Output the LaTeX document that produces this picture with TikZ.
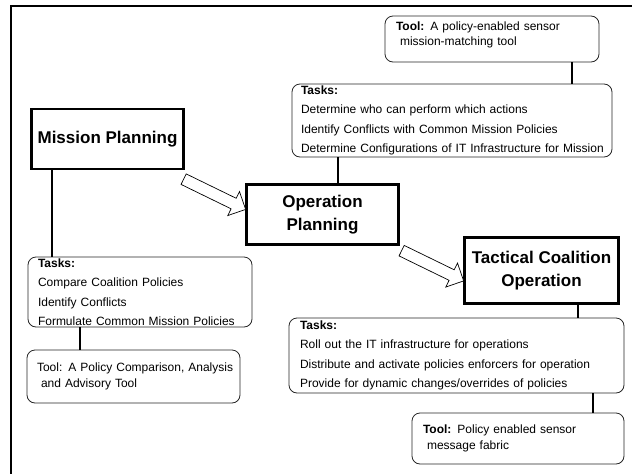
\documentclass[tikz,border=0pt]{standalone}
\usepackage{fontspec}
\setmainfont{Liberation Sans}
\usetikzlibrary{shapes.arrows}

\begin{document}
\begin{tikzpicture}[x=1pt,y=-1pt]
    \tikzstyle{every node}=[inner sep=0pt,outer sep=0pt];
    \tikzstyle{stage}=[draw,line width=2.6pt,align=center,font=\fontsize{17}{22.5}\selectfont\bfseries];
    \tikzstyle{tasks}=[draw=black!85,line width=0.8pt,rounded corners=8pt,anchor=north west,align=left,inner xsep=10pt,font=\fontsize{12}{19.5}\selectfont];
    \tikzstyle{tool}=[tasks,font=\fontsize{12}{15.5}\selectfont];
    \tikzstyle{link}=[line width=2.6pt];
    \tikzstyle{flow}=[draw,fill=white,single arrow,line width=0.7pt,inner xsep=0pt,inner ysep=5.5pt,minimum height=69pt,single arrow head extend=7.5pt,single arrow head indent=0pt,rotate=-26];

    \useasboundingbox (0,0) rectangle (632,474);
    \draw[line width=2.2pt] (11,474) -- (11,6) -- (632,6);

    \node[stage,minimum width=152pt,minimum height=60pt] (mp) at (107.5,139) {Mission Planning};
    \node[stage,minimum width=152pt,minimum height=60pt] (op) at (322.5,214.5) {Operation\\Planning};
    \node[stage,minimum width=154pt,minimum height=66pt] (tco) at (541.5,270.5) {Tactical Coalition\\Operation};

    \node[tool,text width=192pt,minimum height=46pt,inner xsep=11pt] (toolTop) at (385,16) {\textbf{Tool:} A policy-enabled sensor\\\hspace*{4pt}mission-matching tool\\[-5pt]\mbox{}};
    \node[tasks,text width=302pt,minimum height=73pt,inner xsep=9pt] (tasksTop) at (292,84) {\textbf{Tasks:}\\Determine who can perform which actions\\Identify Conflicts with Common Mission Policies\\\mbox{Determine Configurations of IT Infrastructure for Mission}};

    \node[tasks,text width=204pt,minimum height=70pt] (tasksLeft) at (28,257) {\textbf{Tasks:}\\Compare Coalition Policies\\Identify Conflicts\\\mbox{Formulate Common Mission Policies}};
    \node[tool,text width=193pt,minimum height=53pt] (toolLeft) at (27,350) {\mbox{Tool: A Policy Comparison, Analysis}\\\hspace*{4pt}and Advisory Tool};

    \node[tasks,text width=313pt,minimum height=75pt,inner xsep=11pt] (tasksRight) at (289,318) {\textbf{Tasks:}\\Roll out the IT infrastructure for operations\\\mbox{Distribute and activate policies enforcers for operation}\\Provide for dynamic changes/overrides of policies};
    \node[tool,text width=190pt,minimum height=51pt,inner xsep=11pt] (toolRight) at (412,413) {\textbf{Tool:} Policy enabled sensor\\\hspace*{4pt}message fabric};

    \node[flow] (mpToOp) at (212,193) {};
    \node[flow] (opToTco) at (430,264.5) {};

    \coordinate (colA) at (572,0);
    \coordinate (colB) at (338,0);
    \coordinate (colC) at (52,0);
    \coordinate (colD) at (80,0);
    \coordinate (colE) at (578,0);
    \coordinate (colF) at (593,0);

    \draw[link] (toolTop.south -| colA) -- (tasksTop.north -| colA);
    \draw[link] (tasksTop.south -| colB) -- (op.north -| colB);
    \draw[link] (mp.south -| colC) -- (tasksLeft.north -| colC);
    \draw[link] (tasksLeft.south -| colD) -- (toolLeft.north -| colD);
    \draw[link] (tco.south -| colE) -- (tasksRight.north -| colE);
    \draw[link] (tasksRight.south -| colF) -- (toolRight.north -| colF);
\end{tikzpicture}
\end{document}
